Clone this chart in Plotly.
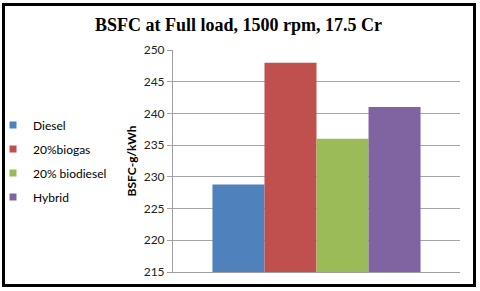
import plotly.graph_objects as go

series_names = ["Diesel", "20%biogas", "20% biodiesel", "Hybrid"]
bsfc_values = [228.8, 248.0, 236.0, 241.0]
colors = ["#4F81BD", "#C0504D", "#9BBB59", "#8064A2"]
category = ["Full load"]
y_ticks = [215, 220, 225, 230, 235, 240, 245, 250]

fig = go.Figure()
for i, (name, val, col) in enumerate(zip(series_names, bsfc_values, colors)):
    fig.add_trace(go.Bar(
        x=category, y=[val], name=name, marker=dict(color=col, line=dict(width=0)),
        showlegend=False,
    ))
# legend entries with small square swatches
for i, (name, col) in enumerate(zip(series_names, colors)):
    fig.add_trace(go.Scatter(
        x=[None], y=[None], mode="markers", name=name,
        marker=dict(symbol="square", size=7, color=col),
        legendgroup=f"g{i}", showlegend=True,
    ))

W, H = 480, 291
L, R, T, B = 173, 20, 50, 19
pw, ph = W - L - R, H - T - B

def px_x(p):
    return (p - L) / pw

def px_y(p):
    return (H - B - p) / ph

fig.update_layout(
    width=W, height=H,
    margin=dict(l=L, r=R, t=T, b=B, autoexpand=False),
    paper_bgcolor="white", plot_bgcolor="white",
    barmode="group", bargap=0.275, bargroupgap=0,
    title=dict(text="<b>BSFC at Full load, 1500 rpm, 17.5 Cr</b>",
               font=dict(family="Liberation Serif", size=18, color="black"),
               x=0.497, xref="container", xanchor="center",
               y=1 - 25 / H, yref="container", yanchor="middle"),
    font=dict(family="Lato", size=12, color="black"),
    legend=dict(x=px_x(-7), xanchor="left", y=0.5, yanchor="middle",
                traceorder="grouped", tracegroupgap=5,
                font=dict(family="Lato", size=12, color="black"),
                bgcolor="rgba(0,0,0,0)"),
    xaxis=dict(showticklabels=False, showgrid=False, showline=True,
               linecolor="#A0A0A0", linewidth=1, ticks=""),
    yaxis=dict(range=[215, 250], tickvals=y_ticks, showgrid=True,
               gridcolor="#A6A6A6", gridwidth=1, showline=True,
               linecolor="#A0A0A0", linewidth=1, ticks="outside", ticklen=5,
               tickcolor="#A0A0A0", zeroline=False,
               tickfont=dict(family="Lato", size=12, color="#222"),
               title=dict(text="<b>BSFC-g/kWh</b>", standoff=4,
                          font=dict(family="Lato", size=12, color="black"))),
    shapes=[dict(type="rect", xref="paper", yref="paper",
                 x0=px_x(3.5), x1=px_x(474.5), y0=px_y(285.5), y1=px_y(4.5),
                 line=dict(color="black", width=3), fillcolor="rgba(0,0,0,0)",
                 layer="above")],
)

fig.write_html("out.html", config={"displayModeBar": False},
               post_script="document.body.style.margin='0';")
